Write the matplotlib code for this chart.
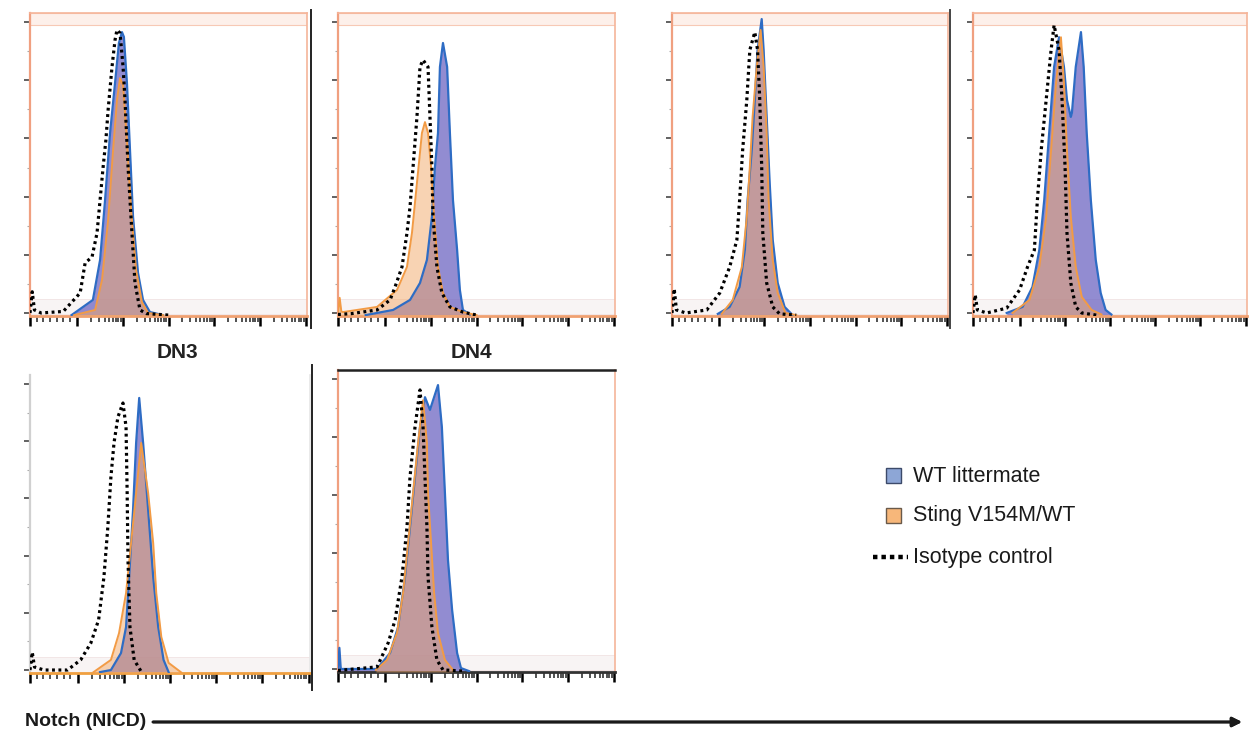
import matplotlib
matplotlib.use("Agg")
import matplotlib.pyplot as plt
from matplotlib.lines import Line2D
from matplotlib.patches import Rectangle
import numpy as np

plt.rcParams['font.family'] = ['Liberation Sans', 'DejaVu Sans']

W, H = 1255, 733

# ---------------- data (channel 0-100 across, % of max height) ----------------
# Panel 1 (top row, 1st)
p1_iso_x = [0, 0.8, 1.6, 4, 12, 18.1, 19.9, 22.4, 24.2, 25.3, 26.4, 27.4, 28.2, 29.6, 30.7, 31.4, 32.5, 33.6, 34.3, 35.4, 36.8, 37.9, 39.7, 42, 50]
p1_iso_y = [1, 8, 2, 1, 1.5, 7.6, 17.5, 19.5, 27.4, 38.3, 49.2, 58.1, 68, 82.2, 91.1, 94.4, 93.4, 82.2, 71.3, 49.2, 27.4, 10.9, 2, 0.8, 0.3]
p1_wt_x = [15, 22.7, 25.3, 27.1, 28.9, 30.7, 32.1, 33.2, 33.9, 35.0, 36.1, 37.2, 39.0, 40.8, 43.3, 48]
p1_wt_y = [0.3, 5.3, 18.5, 38.3, 60.4, 76.9, 90.1, 93.7, 92.1, 76.9, 54.8, 32.7, 14.2, 5.3, 1.3, 0.3]
p1_mut_x = [16, 23.5, 26, 28.2, 30, 31.4, 32.5, 33.6, 35, 36.5, 38.3, 40.4, 42.6, 48]
p1_mut_y = [0.3, 2, 11.9, 31.7, 54.8, 71.3, 78.5, 76.2, 58, 35, 15.2, 4.6, 1, 0.3]

# Panel 2 (top row, 2nd)
p2_iso_x = [0, 5, 14.1, 18.8, 20.6, 23.1, 24.9, 26, 27.1, 28.5, 29.6, 30.7, 32.5, 33.2, 33.9, 34.3, 35.7, 37.5, 40.4, 45.1, 50]
p2_iso_y = [0.5, 0.8, 2, 5.3, 9.6, 16.2, 27.4, 36, 49.2, 65.7, 82.2, 84.5, 82.2, 65.7, 49.2, 32.7, 16.2, 7.6, 3, 1.3, 0.3]
p2_wt_x = [10, 19.9, 26, 29.6, 32.1, 33.9, 35, 36.1, 36.8, 37.9, 39.4, 40.4, 41.5, 43, 44, 45.1, 47.6]
p2_wt_y = [0.3, 2, 5.3, 10.9, 18.5, 32.7, 49.2, 60.4, 82.2, 90.1, 82.2, 60.4, 38.3, 21.8, 8.6, 2, 0.5]
p2_mut_x = [0, 0.6, 1.2, 1.8, 14.1, 21.3, 24.9, 26.7, 28.5, 30.3, 31.4, 32.5, 33.6, 34.7, 36.1, 37.9, 40.4, 45.1, 50]
p2_mut_y = [1, 6, 1.5, 1.3, 3, 8.6, 16.2, 27.4, 43.9, 60.4, 64, 60.4, 49.2, 32.7, 16.2, 7.6, 3, 1.3, 0.3]

# Panel 3 (top row, 3rd)
p3_iso_x = [0, 0.8, 1.6, 5, 12.6, 17.3, 20.9, 23.5, 24.5, 25.6, 27.1, 28.2, 30, 31, 31.8, 32.5, 32.9, 34.3, 36.5, 39, 45]
p3_iso_y = [1, 9, 2, 1, 2, 7.6, 16.2, 25.1, 38.3, 54.8, 71.3, 87.8, 93.7, 87.8, 71.3, 49.2, 27.4, 10.9, 3, 0.7, 0.3]
p3_wt_x = [16.6, 20.9, 24.5, 26.4, 27.4, 28.9, 30, 31, 32.5, 33.2, 34.3, 35.4, 36.5, 38.3, 40.8, 43.7]
p3_wt_y = [0.7, 3, 9.6, 21.8, 38.3, 54.8, 71.3, 87.8, 98, 87.8, 65.7, 43.9, 25.1, 10.9, 3, 0.3]
p3_mut_x = [18, 22, 25.3, 27.1, 28.2, 29.2, 30.7, 32.1, 33.2, 34.3, 35, 36.5, 38.3, 41.1, 45]
p3_mut_y = [0.7, 5.3, 16.2, 32.7, 49.2, 65.7, 82.2, 94.4, 82.2, 60.4, 38.3, 18.5, 7.6, 1, 0.3]

# Panel 4 (top row, 4th)
p4_iso_x = [0, 0.8, 1.6, 5, 12.3, 17, 19.9, 22.4, 23.5, 24.9, 26.7, 28.5, 29.6, 31.4, 32.5, 33.6, 34.3, 35.7, 37.5, 39.7, 45]
p4_iso_y = [1, 7, 2, 1, 2.6, 8.6, 16.2, 21.8, 38.3, 54.8, 71.3, 87.8, 96, 87.8, 71.3, 49.2, 27.4, 10.9, 3, 1, 0.3]
p4_wt_x = [12.3, 18.1, 21.7, 24.2, 26, 27.8, 29.6, 31.4, 33.2, 34.3, 35.7, 36.1, 37.5, 39.4, 40.4, 41.5, 43, 44.8, 46.6, 48.4, 50.5]
p4_wt_y = [1, 3, 9.6, 21.8, 38.3, 60.4, 82.2, 92, 82.2, 71.3, 65.7, 67, 82.2, 93.7, 82.2, 60.4, 38.3, 18.5, 7.6, 2, 0.5]
p4_mut_x = [14.4, 20.6, 24.2, 26.7, 28.5, 30.3, 32.1, 33.2, 34.3, 35.7, 37.5, 39.7, 43.3, 46.9]
p4_mut_y = [1, 5.3, 16.2, 32.7, 54.8, 76.9, 92, 76.9, 54.8, 32.7, 16.2, 6.3, 2, 0.5]

# Panel 5 (bottom row, 1st)
p5_iso_x = [0, 0.8, 1.6, 5, 13.4, 18.1, 21.7, 24.5, 26.4, 27.8, 28.9, 30, 31.4, 33.2, 34.3, 34.7, 35, 35.7, 37.2, 39.7]
p5_iso_y = [1, 7, 2, 1, 1, 4.4, 10, 17.8, 32.2, 49, 65.8, 77.2, 85.9, 90.6, 82.6, 60.4, 37.9, 15.4, 4.4, 0.5]
p5_wt_x = [25, 28.9, 32.5, 34.3, 35.4, 36.8, 37.9, 39, 40.4, 42.2, 44, 45.8, 47.7, 49.5]
p5_wt_y = [0.3, 1, 6.7, 15.4, 32.2, 54.7, 77.2, 92.3, 77.2, 54.7, 32.2, 15.4, 4.4, 0.3]
p5_mut_x = [22.7, 28.9, 31.8, 34.3, 36.1, 37.9, 39.7, 42.2, 44, 45.1, 46.9, 49.5, 54]
p5_mut_y = [0.3, 4.4, 13.4, 26.8, 43.6, 60.4, 77.2, 60.4, 43.6, 26.8, 12.1, 3.4, 0.2]

# Panel 6 (bottom row, 2nd)
p6_iso_x = [0, 14.1, 18.1, 20.6, 23.1, 24.9, 26, 27.8, 29.6, 30.7, 31.4, 32.1, 32.5, 33.9, 35.7, 37.9, 45]
p6_iso_y = [0.5, 1.7, 9.6, 17.2, 31.5, 48, 64.6, 81.1, 93.4, 81.1, 64.6, 48, 31.5, 14.9, 4, 0.7, 0.3]
p6_wt_x = [0, 0.5, 1, 14.1, 18.8, 21.7, 24.2, 26, 27.8, 29.6, 31.4, 33.2, 36.1, 37.5, 38.6, 39.7, 41.2, 43, 44.4, 47.3]
p6_wt_y = [1, 8, 1, 1, 6.3, 14.9, 31.5, 48, 64.6, 81.1, 91, 86.8, 95, 81.1, 59.3, 37.1, 20.5, 6.3, 1.3, 0.3]
p6_mut_x = [13.7, 17.7, 21.3, 23.5, 25.3, 27.1, 28.9, 30.7, 32.1, 32.5, 33.6, 34.7, 36.1, 38.6, 41.5]
p6_mut_y = [0.7, 4, 12.9, 26.2, 42.7, 59.3, 75.8, 90, 75.8, 59.3, 42.7, 26.2, 12.9, 4, 0.7]

legend_labels = ["WT littermate", "Sting V154M/WT", "Isotype control"]
population_labels = ["DN3", "DN4"]
axis_label = "Notch (NICD)"

# ---------------- styling ----------------
WT_FILL, WT_EDGE = '#6e66c2', '#2e6cc4'
MUT_FILL, MUT_EDGE = '#f3a968', '#f29b45'
SPINE = '#f5b59a'
BAND = '#fdf0ea'

fig = plt.figure(figsize=(W / 100, H / 100), dpi=100)
fig.patch.set_facecolor('white')


def px_axes(l, t, r, b):
    return fig.add_axes([l / W, 1 - b / H, (r - l) / W, (b - t) / H])


def panel(rect, iso, wt, mut, top_band=True, spine_color=SPINE):
    ax = px_axes(*rect)
    ax.set_xlim(0, 100)
    ax.set_ylim(0, 100)
    if top_band:
        ax.axhspan(96, 100, facecolor=BAND, edgecolor='#f7c9b5', lw=0.8, zorder=0)
    ax.axhspan(0.5, 5.5, facecolor='#f8f4f4', edgecolor='#f1e3e3', lw=0.6, zorder=0)
    ax.fill_between(wt[0], wt[1], 0, color=WT_FILL, alpha=0.75, lw=0, zorder=2)
    ax.fill_between(mut[0], mut[1], 0, color=MUT_FILL, alpha=0.5, lw=0, zorder=3)
    ax.plot(wt[0], wt[1], color=WT_EDGE, lw=1.6, zorder=4)
    ax.plot(mut[0], mut[1], color=MUT_EDGE, lw=1.4, zorder=5)
    ax.plot(iso[0], iso[1], color='black', lw=2.3, ls=(0, (0.9, 1.1)),
            dash_capstyle='butt', zorder=6)
    for s in ax.spines.values():
        s.set_color(spine_color)
        s.set_linewidth(1.2)
    ax.spines['bottom'].set_color('#f0a070')
    ax.spines['bottom'].set_linewidth(2)
    ax.spines['left'].set_color('#f0a080')
    ax.spines['left'].set_linewidth(1.6)
    # biexponential-like x ticks
    decades = [17, 33.5, 50, 66.5, 83]
    majors = [0] + decades + [99.5]
    minors = [2.4 * k for k in range(1, 7)]
    for d in decades:
        minors += [d + 16.5 * np.log10(k) for k in range(2, 10)]
    minors = [m for m in minors if m < 100]
    ax.set_xticks(majors)
    ax.set_xticks(minors, minor=True)
    ax.set_xticklabels([])
    ax.tick_params(axis='x', which='major', direction='out', length=7, width=1.8, color='black')
    ax.tick_params(axis='x', which='minor', direction='out', length=4.5, width=1.1, color='#222')
    ymaj = [1, 20.2, 39.4, 58.6, 77.8, 97]
    ymin = [10.6, 29.8, 49, 68.2, 87.4]
    ax.set_yticks(ymaj)
    ax.set_yticks(ymin, minor=True)
    ax.set_yticklabels([])
    ax.tick_params(axis='y', which='major', direction='out', length=4, width=1.3, color='#555')
    ax.tick_params(axis='y', which='minor', direction='out', length=2.5, width=0.8, color='#aaa')
    ax.set_facecolor('white')
    return ax


panel((30, 13, 307, 316), (p1_iso_x, p1_iso_y), (p1_wt_x, p1_wt_y), (p1_mut_x, p1_mut_y))
panel((338, 13, 615, 316), (p2_iso_x, p2_iso_y), (p2_wt_x, p2_wt_y), (p2_mut_x, p2_mut_y))
panel((672, 13, 948, 316), (p3_iso_x, p3_iso_y), (p3_wt_x, p3_wt_y), (p3_mut_x, p3_mut_y))
panel((973, 13, 1247, 316), (p4_iso_x, p4_iso_y), (p4_wt_x, p4_wt_y), (p4_mut_x, p4_mut_y))
ax5 = panel((30, 375, 310, 673), (p5_iso_x, p5_iso_y), (p5_wt_x, p5_wt_y), (p5_mut_x, p5_mut_y),
            top_band=False, spine_color='#e6e6e6')
ax5.spines['top'].set_visible(False)
ax5.spines['left'].set_color('#d0d0d0')
ax5.spines['bottom'].set_color('#f0a040')
ax6 = panel((338, 370, 615, 672), (p6_iso_x, p6_iso_y), (p6_wt_x, p6_wt_y), (p6_mut_x, p6_mut_y),
            top_band=False)
ax6.spines['top'].set_color('#222')
ax6.spines['top'].set_linewidth(1.8)
ax6.spines['bottom'].set_color('#333')


def fline(x0, y0, x1, y1, color='black', lw=1.5):
    fig.add_artist(Line2D([x0 / W, x1 / W], [1 - y0 / H, 1 - y1 / H],
                          transform=fig.transFigure, color=color, lw=lw))


# divider lines between panels
fline(311, 10, 311, 328, color='#222', lw=1.4)
fline(950, 10, 950, 328, color='#444', lw=1.4)
fline(312, 365, 312, 690, color='#222', lw=1.4)

# population labels
fig.text(177 / W, 1 - 352 / H, population_labels[0], fontsize=15, fontweight='bold',
         ha='center', va='center', color='#222')
fig.text(471 / W, 1 - 352 / H, population_labels[1], fontsize=15, fontweight='bold',
         ha='center', va='center', color='#222')

# legend
fig.add_artist(Rectangle((886 / W, 1 - 483 / H), 15 / W, 15 / H, transform=fig.transFigure,
                         facecolor='#8da6d6', edgecolor='#3c4a6a', lw=1.0))
fig.add_artist(Rectangle((886 / W, 1 - 523 / H), 15 / W, 15 / H, transform=fig.transFigure,
                         facecolor='#f7b77a', edgecolor='#6a5a4a', lw=1.0))
fig.add_artist(Line2D([873 / W, 908 / W], [1 - 557 / H, 1 - 557 / H], transform=fig.transFigure,
                      color='black', lw=3.2, ls=(0, (1.0, 0.9)), dash_capstyle='butt'))
for yy, lab in zip([476, 516, 557], legend_labels):
    fig.text(913 / W, 1 - yy / H, lab, fontsize=15.5, ha='left', va='center', color='#1a1a1a')

# x-axis arrow label
fig.text(25 / W, 1 - 722 / H, axis_label, fontsize=14, fontweight='bold', ha='left',
         va='center', color='#1a1a1a')
fig.add_artist(plt.annotate('', xy=(1242 / W, 1 - 722 / H), xytext=(153 / W, 1 - 722 / H),
                            xycoords='figure fraction', textcoords='figure fraction',
                            arrowprops=dict(arrowstyle='-|>', color='#1a1a1a', lw=2,
                                            mutation_scale=14, shrinkA=0, shrinkB=0)))

fig.savefig('out.png', dpi=100, facecolor='white')
